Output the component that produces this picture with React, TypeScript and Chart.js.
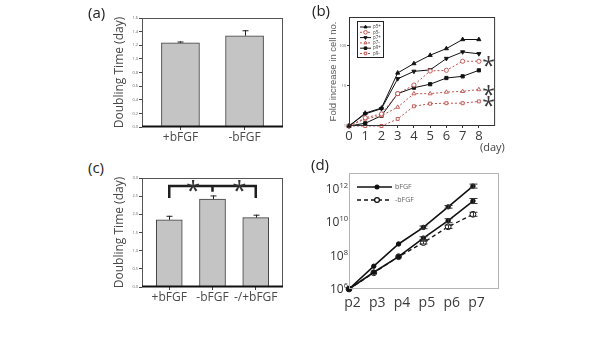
import React, { useEffect, useRef } from 'react';
import { Chart, registerables } from 'chart.js';
import { drawPoint } from 'chart.js/helpers';

Chart.register(...registerables);
Chart.defaults.font.family = "'Open Sans', sans-serif";

// (a) doubling time with / without bFGF
const aLabels = ['+bFGF', '-bFGF'];
const aDoubling = [1.235, 1.34];
const aDoublingErr = [0.02, 0.08];
const aYTicks = [0, 0.2, 0.4, 0.6, 0.8, 1.0, 1.2, 1.4, 1.6];

// (b) fold increase in cell number over 8 days
const bDays = [0, 1, 2, 3, 4, 5, 6, 7, 8];
const bNames = ['p5+', 'p5-', 'p7+', 'p7-', 'p9+', 'p9-'];
const bP5Plus = [1, 2.1, 2.8, 21, 36, 58, 85, 143, 143];
const bP5Minus = [1, 1.6, 2.0, 6.4, 10.5, 23.5, 24.4, 41, 41];
const bP7Plus = [1, 2.0, 2.7, 15, 23, 25, 48, 70, 63];
const bP7Minus = [1, 1.5, 1.8, 2.95, 6.4, 6.4, 7.0, 7.3, 8.1];
const bP9Plus = [1, 1.17, 1.8, 6.4, 9.0, 11, 15.7, 17.3, 24.4];
const bP9Minus = [1, 1, 1, 1.5, 3.1, 3.6, 3.7, 3.7, 4.1];
const bYTicks = [1, 10, 100];
const bStarred = [1, 3, 5];

// (c) doubling time including the switched condition
const cLabels = ['+bFGF', '-bFGF', '-/+bFGF'];
const cDoubling = [1.85, 2.42, 1.91];
const cDoublingErr = [0.11, 0.1, 0.08];
const cYTicks = [0, 0.5, 1.0, 1.5, 2.0, 2.5, 3.0];
const cBracket = { top: 2.78, ends: 2.45, mid: 2.62 };

// (d) cumulative cell number by passage
const dPassages = ['p2', 'p3', 'p4', 'p5', 'p6', 'p7'];
const dPlus = [1e6, 2.3e7, 4.9e8, 4.8e9, 8.1e10, 1.4e12];
const dPlusErr = [0, 0, 0, 0.08, 0.08, 0.12];
const dSwitch = [1e6, 1.0e7, 8.5e7, 1.1e9, 1.2e10, 1.8e11];
const dSwitchErr = [0, 0, 0, 0.08, 0.12, 0.15];
const dMinus = [1e6, 9.3e6, 8.5e7, 5.9e8, 5.2e9, 2.9e10];
const dMinusErr = [0, 0, 0, 0.08, 0.1, 0.12];
const dYTicks = [1e6, 1e8, 1e10, 1e12];

const TEXT = '#4a4a4a';

function framePlugin(color: string, width: number, bottomColor?: string, bottomWidth?: number) {
  return {
    id: 'frame',
    afterDatasetsDraw(chart: any) {
      const { ctx, chartArea } = chart;
      const { left, top, right, bottom } = chartArea;
      ctx.save();
      ctx.strokeStyle = color;
      ctx.lineWidth = width;
      ctx.strokeRect(left + 0.5, top + 0.5, right - left - 1, bottom - top - 1);
      if (bottomColor) {
        ctx.strokeStyle = bottomColor;
        ctx.lineWidth = bottomWidth || 1;
        ctx.beginPath();
        ctx.moveTo(left, bottom - 0.5);
        ctx.lineTo(right, bottom - 0.5);
        ctx.stroke();
      }
      ctx.restore();
    },
  };
}

function barErrorPlugin(errs: number[]) {
  return {
    id: 'barErrors',
    afterDatasetsDraw(chart: any) {
      const { ctx } = chart;
      const y = chart.scales.y;
      const meta = chart.getDatasetMeta(0);
      const values = chart.data.datasets[0].data;
      ctx.save();
      ctx.strokeStyle = '#222';
      ctx.lineWidth = 1;
      meta.data.forEach((el: any, i: number) => {
        const v = values[i].y;
        const top = y.getPixelForValue(v + errs[i]);
        const x = Math.round(el.x) + 0.5;
        ctx.beginPath();
        ctx.moveTo(x, el.y);
        ctx.lineTo(x, top);
        ctx.moveTo(x - 3, top + 0.5);
        ctx.lineTo(x + 3, top + 0.5);
        ctx.stroke();
      });
      ctx.restore();
    },
  };
}

function barConfig(labels: string[], values: number[], errs: number[], ticks: number[],
  xMin: number, xMax: number, yMax: number, thickness: number, extra: any[]) {
  return {
    type: 'bar',
    data: {
      datasets: [{
        data: values.map((v, i) => ({ x: i + 1, y: v })),
        backgroundColor: '#c4c4c4',
        borderColor: '#3c3c3c',
        borderWidth: 1,
        barThickness: thickness,
      }],
    },
    options: {
      animation: false,
      responsive: false,
      events: [],
      layout: { padding: { top: 18, right: 7, left: 0, bottom: 0 } },
      plugins: { legend: { display: false }, tooltip: { enabled: false } },
      scales: {
        x: {
          type: 'linear', min: xMin, max: xMax, offset: false,
          afterBuildTicks: (s: any) => { s.ticks = labels.map((_, i) => ({ value: i + 1 })); },
          afterFit: (s: any) => { s.height = 23; },
          grid: { drawOnChartArea: false, tickLength: 3, color: '#444', offset: false },
          border: { display: false },
          ticks: {
            callback: (v: any) => labels[Math.round(v) - 1] ?? '',
            font: { size: 12 }, color: TEXT, padding: 0, maxRotation: 0, autoSkip: false,
          },
        },
        y: {
          min: 0, max: yMax,
          afterBuildTicks: (s: any) => { s.ticks = ticks.map((v) => ({ value: v })); },
          afterFit: (s: any) => { s.width = 37; },
          grid: { drawOnChartArea: false, tickLength: 3, color: '#444' },
          border: { display: false },
          ticks: { callback: (v: any) => Number(v).toFixed(1), font: { size: 4 }, color: '#666', padding: 1 },
          title: {
            display: true, text: 'Doubling Time (day)',
            font: { size: 12 }, color: TEXT, padding: { top: 7, bottom: 0 },
          },
        },
      },
    },
    plugins: [framePlugin('#555', 1, '#111', 2), barErrorPlugin(errs), ...extra],
  };
}

const bracketPlugin = {
  id: 'bracket',
  afterDraw(chart: any) {
    const { ctx } = chart;
    const x = chart.scales.x;
    const y = chart.scales.y;
    const x1 = x.getPixelForValue(1);
    const x2 = x.getPixelForValue(2);
    const x3 = x.getPixelForValue(3);
    const yt = y.getPixelForValue(cBracket.top);
    const ye = y.getPixelForValue(cBracket.ends);
    const ym = y.getPixelForValue(cBracket.mid);
    ctx.save();
    ctx.strokeStyle = '#1e1e1e';
    ctx.lineWidth = 2.5;
    ctx.beginPath();
    ctx.moveTo(x1, ye);
    ctx.lineTo(x1, yt);
    ctx.lineTo(x3, yt);
    ctx.lineTo(x3, ye);
    ctx.moveTo(x2, yt);
    ctx.lineTo(x2, ym);
    ctx.stroke();
    ctx.fillStyle = '#333';
    ctx.font = "26px 'Open Sans', sans-serif";
    ctx.textAlign = 'center';
    ctx.textBaseline = 'alphabetic';
    [1.55, 2.62].forEach((p) => ctx.fillText('*', x.getPixelForValue(p), yt + 13));
    ctx.restore();
  },
};

// (b) series styling
const bStyles = [
  { color: '#111', dash: [], point: 'triangle', fill: '#111', rot: 0, r: 2.4 },
  { color: '#c0504d', dash: [2, 2], point: 'circle', fill: '#fff', rot: 0, r: 2.1 },
  { color: '#111', dash: [], point: 'triangle', fill: '#111', rot: 180, r: 2.4 },
  { color: '#c0504d', dash: [2, 2], point: 'triangle', fill: '#fff', rot: 0, r: 2.3 },
  { color: '#111', dash: [], point: 'rect', fill: '#111', rot: 0, r: 2.3 },
  { color: '#c0504d', dash: [2, 2], point: 'rect', fill: '#fff', rot: 0, r: 2.1 },
];

const bLegendPlugin = {
  id: 'bLegend',
  afterDraw(chart: any) {
    const { ctx, chartArea } = chart;
    const bx = chartArea.left + 8;
    const by = chartArea.top + 4;
    ctx.save();
    ctx.strokeStyle = '#222';
    ctx.lineWidth = 1;
    ctx.strokeRect(bx + 0.5, by + 0.5, 26, 36);
    chart.data.datasets.forEach((ds: any, i: number) => {
      const yy = by + 6 + i * 5.3;
      ctx.setLineDash(ds.borderDash || []);
      ctx.strokeStyle = ds.borderColor;
      ctx.lineWidth = 1;
      ctx.beginPath();
      ctx.moveTo(bx + 3, yy);
      ctx.lineTo(bx + 14, yy);
      ctx.stroke();
      ctx.setLineDash([]);
      ctx.fillStyle = ds.pointBackgroundColor;
      ctx.strokeStyle = ds.pointBorderColor;
      drawPoint(ctx, { pointStyle: ds.pointStyle, radius: 1.8, rotation: ds.pointRotation || 0, borderWidth: 0.8 }, bx + 8.5, yy);
      ctx.fillStyle = '#333';
      ctx.font = "4.5px 'Open Sans', sans-serif";
      ctx.textBaseline = 'middle';
      ctx.textAlign = 'left';
      ctx.fillText(ds.label, bx + 16, yy);
    });
    ctx.restore();
  },
};

const bStarPlugin = {
  id: 'bStars',
  afterDraw(chart: any) {
    const { ctx } = chart;
    const x = chart.scales.x;
    const y = chart.scales.y;
    ctx.save();
    ctx.fillStyle = '#3a3a3a';
    ctx.font = "23px 'Open Sans', sans-serif";
    ctx.textAlign = 'center';
    ctx.textBaseline = 'alphabetic';
    bStarred.forEach((si) => {
      const vals = chart.data.datasets[si].data;
      const last = vals[vals.length - 1].y;
      ctx.fillText('*', x.getPixelForValue(8.6), y.getPixelForValue(last) + 13);
    });
    ctx.restore();
  },
};

function bConfig() {
  const series = [bP5Plus, bP5Minus, bP7Plus, bP7Minus, bP9Plus, bP9Minus];
  return {
    type: 'line',
    data: {
      datasets: series.map((vals, i) => ({
        label: bNames[i],
        data: vals.map((v, j) => ({ x: bDays[j], y: v })),
        borderColor: bStyles[i].color,
        borderWidth: 1,
        borderDash: bStyles[i].dash,
        pointStyle: bStyles[i].point,
        pointRotation: bStyles[i].rot,
        pointRadius: bStyles[i].r,
        pointBackgroundColor: bStyles[i].fill,
        pointBorderColor: bStyles[i].color,
        pointBorderWidth: 0.9,
        fill: false,
        tension: 0,
        clip: false,
      })),
    },
    options: {
      animation: false,
      responsive: false,
      events: [],
      layout: { padding: { top: 17, right: 3, left: 0, bottom: 0 } },
      plugins: { legend: { display: false }, tooltip: { enabled: false } },
      scales: {
        x: {
          type: 'linear', min: 0, max: 9,
          afterBuildTicks: (s: any) => { s.ticks = bDays.map((d) => ({ value: d })); },
          afterFit: (s: any) => { s.height = 34; },
          grid: { drawOnChartArea: false, tickLength: 2, color: '#333' },
          border: { display: false },
          ticks: { font: { size: 13 }, color: '#3a3a3a', padding: 0, maxRotation: 0, autoSkip: false },
        },
        y: {
          type: 'logarithmic', min: 1, max: 520,
          afterBuildTicks: (s: any) => { s.ticks = bYTicks.map((v) => ({ value: v })); },
          afterFit: (s: any) => { s.width = 24; },
          grid: { drawOnChartArea: false, tickLength: 2, color: '#333' },
          border: { display: false },
          ticks: { callback: (v: any) => String(v), font: { size: 4 }, color: '#666', padding: 1 },
          title: {
            display: true, text: 'Fold increase in cell no.',
            font: { size: 9.5, family: "'Liberation Sans', Arial, sans-serif" }, color: '#5a5a5a',
            padding: { top: 2.3, bottom: 0 },
          },
        },
      },
    },
    plugins: [framePlugin('#333', 1), bLegendPlugin, bStarPlugin],
  };
}

// (d) error bars in decades and inline legend
const dErrPlugin = {
  id: 'dErrors',
  afterDatasetsDraw(chart: any) {
    const { ctx } = chart;
    const y = chart.scales.y;
    const errSets = [dPlusErr, dSwitchErr, dMinusErr];
    ctx.save();
    ctx.strokeStyle = '#333';
    ctx.lineWidth = 1;
    chart.data.datasets.forEach((ds: any, di: number) => {
      const meta = chart.getDatasetMeta(di);
      ds.data.forEach((pt: any, i: number) => {
        const e = errSets[di][i];
        if (!e) return;
        const x = Math.round(meta.data[i].x) + 0.5;
        const hi = y.getPixelForValue(pt.y * Math.pow(10, e));
        const lo = y.getPixelForValue(pt.y / Math.pow(10, e));
        ctx.beginPath();
        ctx.moveTo(x, hi);
        ctx.lineTo(x, lo);
        ctx.moveTo(x - 4, hi);
        ctx.lineTo(x + 4, hi);
        ctx.moveTo(x - 4, lo);
        ctx.lineTo(x + 4, lo);
        ctx.stroke();
      });
    });
    ctx.restore();
  },
};

const dLegendPlugin = {
  id: 'dLegend',
  afterDraw(chart: any) {
    const { ctx, chartArea } = chart;
    const { left, top } = chartArea;
    ctx.save();
    [0, 2].forEach((di, row) => {
      const ds = chart.data.datasets[di];
      const yy = top + 14 + row * 13;
      ctx.strokeStyle = ds.borderColor;
      ctx.lineWidth = ds.borderWidth;
      ctx.setLineDash(ds.borderDash || []);
      ctx.beginPath();
      ctx.moveTo(left + 8, yy);
      ctx.lineTo(left + 43, yy);
      ctx.stroke();
      ctx.setLineDash([]);
      ctx.fillStyle = ds.pointBackgroundColor;
      ctx.strokeStyle = ds.pointBorderColor;
      drawPoint(ctx, { pointStyle: 'circle', radius: ds.pointRadius - 0.5, rotation: 0, borderWidth: 1 }, left + 28, yy);
      ctx.fillStyle = '#666';
      ctx.font = "7px 'Open Sans', sans-serif";
      ctx.textAlign = 'left';
      ctx.textBaseline = 'middle';
      ctx.fillText(ds.label, left + 46, yy);
    });
    ctx.restore();
  },
};

const dYLabelPlugin = {
  id: 'dYLabels',
  afterDraw(chart: any) {
    const { ctx } = chart;
    const y = chart.scales.y;
    const xr = chart.chartArea.left - 1;
    ctx.save();
    ctx.fillStyle = '#333';
    ctx.textBaseline = 'middle';
    ctx.textAlign = 'left';
    dYTicks.forEach((v) => {
      const py = y.getPixelForValue(v);
      const exp = String(Math.round(Math.log10(v)));
      ctx.font = "7.5px 'Open Sans', sans-serif";
      const ew = ctx.measureText(exp).width;
      ctx.font = "12px 'Open Sans', sans-serif";
      const bw = ctx.measureText('10').width;
      const x0 = xr - ew - bw;
      ctx.fillText('10', x0, py + 1);
      ctx.font = "7.5px 'Open Sans', sans-serif";
      ctx.fillText(exp, x0 + bw, py - 3);
    });
    ctx.restore();
  },
};

function dConfig() {
  const mk = (label: string, vals: number[], dash: number[], filled: boolean) => ({
    label,
    data: vals.map((v, i) => ({ x: i, y: v })),
    borderColor: '#111',
    borderWidth: dash.length ? 1.3 : 1.6,
    borderDash: dash,
    pointStyle: 'circle',
    pointRadius: filled ? 2.2 : 2.9,
    pointBackgroundColor: filled ? '#111' : '#fff',
    pointBorderColor: '#111',
    pointBorderWidth: 1,
    tension: 0,
    fill: false,
    clip: false,
  });
  return {
    type: 'line',
    data: {
      datasets: [
        mk('bFGF', dPlus, [], true),
        mk('-/+bFGF', dSwitch, [], true),
        mk('-bFGF', dMinus, [4, 3], false),
      ],
    },
    options: {
      animation: false,
      responsive: false,
      events: [],
      layout: { padding: { top: 18, right: 6, left: 0, bottom: 0 } },
      plugins: { legend: { display: false }, tooltip: { enabled: false } },
      scales: {
        x: {
          type: 'linear', min: 0, max: 6.05,
          afterBuildTicks: (s: any) => { s.ticks = dPassages.map((_, i) => ({ value: i })); },
          afterFit: (s: any) => { s.height = 36; },
          grid: { drawOnChartArea: false, drawTicks: false },
          border: { display: false },
          ticks: {
            callback: (v: any) => dPassages[Math.round(v)] ?? '',
            font: { size: 14 }, color: '#3a3a3a', padding: 6, labelOffset: 3.5,
            maxRotation: 0, autoSkip: false,
          },
        },
        y: {
          type: 'logarithmic', min: 1e6, max: 8.5e12,
          afterBuildTicks: (s: any) => { s.ticks = dYTicks.map((v) => ({ value: v })); },
          afterFit: (s: any) => { s.width = 24; },
          grid: { drawOnChartArea: false, drawTicks: false },
          border: { display: false },
          ticks: { display: false },
        },
      },
    },
    plugins: [framePlugin('#b4b4b4', 1), dErrPlugin, dLegendPlugin, dYLabelPlugin],
  };
}

function ChartBox({ left, top, width, height, make }: any) {
  const ref = useRef<HTMLCanvasElement>(null);
  useEffect(() => {
    const chart = new Chart(ref.current as HTMLCanvasElement, make());
    return () => chart.destroy();
  }, []);
  return (
    <canvas
      ref={ref}
      width={width}
      height={height}
      style={{ position: 'absolute', left, top, width, height }}
    />
  );
}

function PanelTag({ left, top, children }: any) {
  return (
    <div style={{ position: 'absolute', left, top, fontSize: 15, lineHeight: 1, color: '#222' }}>
      {children}
    </div>
  );
}

export default function App() {
  useEffect(() => {
    document.body.style.margin = '0';
  }, []);
  return (
    <div
      style={{
        position: 'fixed', left: 0, top: 0, width: 599, height: 337, overflow: 'hidden',
        background: '#fff', fontFamily: "'Open Sans', sans-serif",
      }}
    >
      <ChartBox left={105} top={0} width={185} height={150}
        make={() => barConfig(aLabels, aDoubling, aDoublingErr, aYTicks, 0.4, 2.6, 1.6, 38, [])} />
      <ChartBox left={105} top={160} width={185} height={150}
        make={() => barConfig(cLabels, cDoubling, cDoublingErr, cYTicks, 0.37, 3.63, 3.0, 26, [bracketPlugin])} />
      <ChartBox left={325} top={0} width={175} height={160} make={bConfig} />
      <ChartBox left={325} top={155} width={180} height={170} make={dConfig} />
      <PanelTag left={88} top={5}>(a)</PanelTag>
      <PanelTag left={312} top={3}>(b)</PanelTag>
      <PanelTag left={88} top={160}>(c)</PanelTag>
      <PanelTag left={311} top={157}>(d)</PanelTag>
      <div style={{ position: 'absolute', left: 480, top: 139, fontSize: 11, color: '#444' }}>(day)</div>
    </div>
  );
}
